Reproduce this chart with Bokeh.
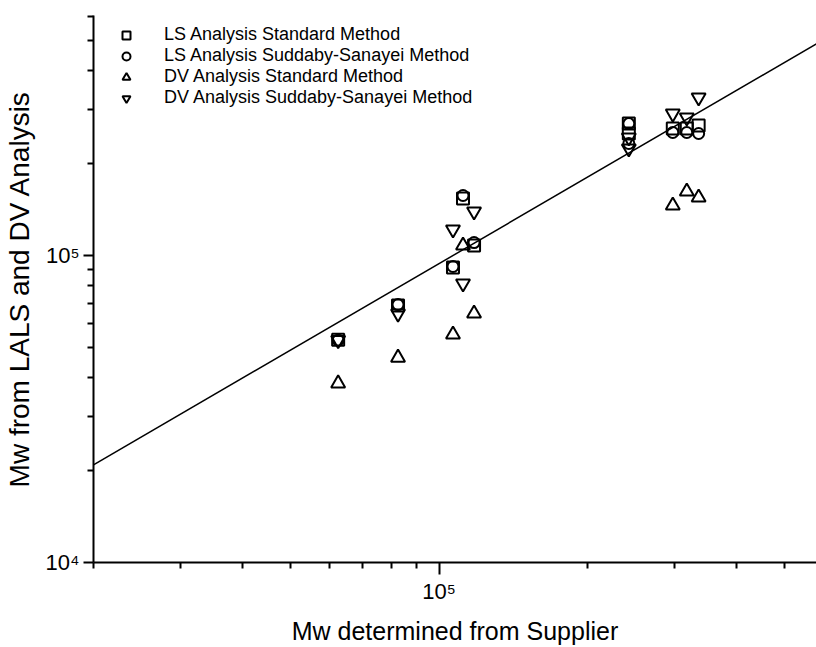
from bokeh.plotting import figure
from bokeh.models import FixedTicker, Legend, LegendItem
from bokeh.embed import file_html
from bokeh.resources import INLINE

# ---- data ----
ls_std_x = [62500, 82600, 106700, 111800, 117700, 242000, 242000, 297000, 317000, 335000]
ls_std_y = [53200, 68700, 91400, 153300, 107800, 269000, 249700, 259300, 259300, 265200]

ls_ss_x = [62500, 82600, 106700, 111800, 117700, 242000, 242000, 297000, 317000, 335000]
ls_ss_y = [53000, 69200, 92100, 156800, 110200, 269000, 231600, 251600, 251600, 249700]

dv_std_x = [62500, 82600, 106700, 111800, 117700, 297000, 317000, 335000]
dv_std_y = [38300, 46500, 55300, 107800, 64700, 145500, 161600, 154500]

dv_ss_x = [62500, 82600, 106700, 111800, 117700, 242000, 242000, 297000, 317000, 335000]
dv_ss_y = [53000, 64700, 121500, 81100, 139100, 242300, 223200, 290000, 281600, 327000]

fit_x = [20000, 600000]
fit_y = [20800, 505000]

x_major = [100000]
x_minor = [20000, 30000, 40000, 50000, 60000, 70000, 80000, 90000, 200000, 300000, 400000, 500000]
y_major = [10000, 100000]
y_minor = [20000, 30000, 40000, 50000, 60000, 70000, 80000, 90000, 200000, 300000, 400000, 500000, 600000]
tick_labels = {10000: "10\u2074", 100000: "10\u2075"}

labels = ["LS Analysis Standard Method", "LS Analysis Suddaby-Sanayei Method",
          "DV Analysis Standard Method", "DV Analysis Suddaby-Sanayei Method"]

FONT = "Liberation Sans"

p = figure(width=816, height=647, x_axis_type="log", y_axis_type="log",
           x_range=(20000, 580000), y_range=(10000, 605000),
           output_backend="svg", toolbar_location=None,
           min_border_left=92, min_border_right=0, min_border_top=15, min_border_bottom=85)
p.outline_line_color = None
p.grid.visible = False
p.background_fill_color = "white"

p.line(fit_x, fit_y, line_color="black", line_width=1.5)

mk = dict(fill_color=None, line_color="black", line_width=2)
r1 = p.scatter(ls_std_x, ls_std_y, marker="square", size=12, **mk)
r2 = p.scatter(ls_ss_x, ls_ss_y, marker="circle", size=11, **mk)
r3 = p.scatter(dv_std_x, dv_std_y, marker="triangle", size=14, **mk)
r4 = p.scatter(dv_ss_x, dv_ss_y, marker="inverted_triangle", size=14, **mk)

for ax, major, minor, tout in ((p.xaxis[0], x_major, x_minor, 12), (p.yaxis[0], y_major, y_minor, 10)):
    ax.ticker = FixedTicker(ticks=major, minor_ticks=minor)
    ax.major_label_overrides = {k: v for k, v in tick_labels.items() if k in major}
    ax.axis_line_width = 2
    ax.axis_line_color = "black"
    ax.major_tick_line_width = 2
    ax.minor_tick_line_width = 2
    ax.major_tick_line_color = "black"
    ax.minor_tick_line_color = "black"
    ax.major_tick_in = 0
    ax.minor_tick_in = 0
    ax.major_tick_out = tout
    ax.minor_tick_out = 6
    ax.major_label_text_font = FONT
    ax.major_label_text_font_size = "22px"
    ax.major_label_text_color = "black"
    ax.major_label_standoff = 4
    ax.axis_label_text_font = FONT
    ax.axis_label_text_font_style = "normal"
    ax.axis_label_text_color = "black"

p.xaxis.axis_label = "Mw determined from Supplier"
p.xaxis.axis_label_text_font_size = "25px"
p.xaxis.axis_label_standoff = 10
p.yaxis.axis_label = "Mw from LALS and DV Analysis"
p.yaxis.axis_label_text_font_size = "28px"
p.yaxis.axis_label_standoff = 8

# one legend entry per row, stacked at the reference's tight row pitch
row_offsets = [517, 496, 475, 454]
for label, rend, vy in zip(labels, [r1, r2, r3, r4], row_offsets):
    lg = Legend(items=[LegendItem(label=label, renderers=[rend])],
                location=(9, vy), orientation="vertical",
                glyph_width=48, glyph_height=20, label_height=20,
                label_standoff=14, spacing=0, padding=0, margin=0,
                label_text_font=FONT, label_text_font_size="18px", label_text_color="black",
                background_fill_alpha=0, border_line_alpha=0)
    p.add_layout(lg)

open("out.html", "w").write(file_html(p, INLINE))
